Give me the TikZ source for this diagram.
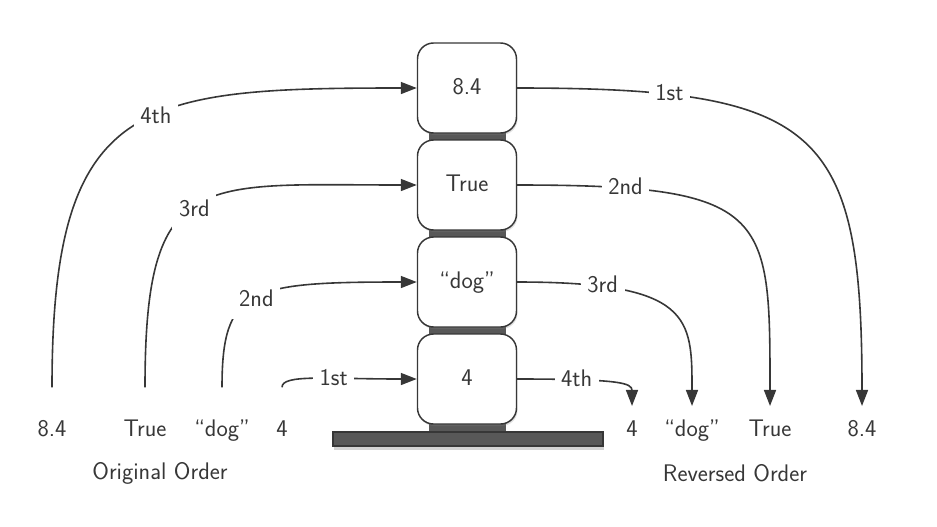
\documentclass[tikz,border=0pt]{standalone}
\usepackage{xcolor}
\usetikzlibrary{arrows.meta,shadows}
\definecolor{ink}{RGB}{55,55,55}
\definecolor{plate}{RGB}{88,88,88}

\begin{document}
\begin{tikzpicture}[x=0.75pt,y=0.75pt,yscale=-1,xscale=1,
	every node/.style={font=\fontsize{18}{21}\selectfont\sffamily, text=ink},
	item/.style={text height=13pt, text depth=4pt, inner sep=3.33pt},
	cell/.style={item, draw=ink, line width=1.1pt, fill=white, rounded corners=12pt, minimum width=74.25pt, minimum height=67.5pt, drop shadow={opacity=0.25, shadow xshift=0.8pt, shadow yshift=-1.5pt}},
	tag/.style={item, fill=white, inner sep=5pt},
	link/.style={draw=ink, line width=1.2pt, -{Triangle[length=12pt,width=9pt]}}]
	\path (0,0) rectangle (937,526); %page frame

	% dark plates between the stacked cells
	\foreach \y in {133,230,327} \fill[plate] (429,\y-4) rectangle (506,\y+11);
	\fill[plate] (429,420) rectangle (506,433);
	\node[draw=ink, fill=plate, line width=0.8pt, minimum width=202.5pt, minimum height=10.5pt, inner sep=0pt, drop shadow={opacity=0.35, shadow xshift=1pt, shadow yshift=-3pt}] (bar) at (468,439) {};

	% the stack
	\node[cell] (b84) at (467,88) {8.4};
	\node[cell] (btrue) at (467,185) {True};
	\node[cell] (bdog) at (467,282) {``dog''};
	\node[cell] (b4) at (467,379) {4};

	% original order
	\node[item] (o84) at (52,430) {8.4};
	\node[item] (otrue) at (145,430) {True};
	\node[item] (odog) at (222,430) {``dog''};
	\node[item] (o4) at (282,430) {4};
	\node (orig) at (160,473) {Original Order};

	% reversed order
	\node[item] (r4) at (632,430) {4};
	\node[item] (rdog) at (692,430) {``dog''};
	\node[item] (rtrue) at (770,430) {True};
	\node[item] (r84) at (862,430) {8.4};
	\node (rev) at (735,473) {Reversed Order};

	% pushes
	\draw[link, shorten <=20pt] (o84.north) .. controls +(0,-316) and +(-278,0) .. (b84.west) node[tag,pos=0.57] (push4) {4th};
	\draw[link, shorten <=20pt] (otrue.north) .. controls +(0,-246) and +(-218,0) .. (btrue.west) node[tag,pos=0.48] (push3) {3rd};
	\draw[link, shorten <=20pt] (odog.north) .. controls +(0,-126) and +(-168,0) .. (bdog.west) node[tag,pos=0.5] (push2) {2nd};
	\draw[link, shorten <=20pt] (o4.north) .. controls +(0,-40) and +(-90,0) .. (b4.west) node[tag,pos=0.62] (push1) {1st};

	% pops
	\draw[link, shorten >=6pt] (b84.east) .. controls +(303,0) and +(0,-286) .. (r84.north) node[tag,pos=0.2] (pop1) {1st};
	\draw[link, shorten >=6pt] (btrue.east) .. controls +(253,0) and +(0,-201) .. (rtrue.north) node[tag,pos=0.17] (pop2) {2nd};
	\draw[link, shorten >=6pt] (bdog.east) .. controls +(175,0) and +(0,-96) .. (rdog.north) node[tag,pos=0.2] (pop3) {3rd};
	\draw[link, shorten >=6pt] (b4.east) .. controls +(103,0) and +(0,-31) .. (r4.north) node[tag,pos=0.24] (pop4) {4th};
\end{tikzpicture}
\end{document}
